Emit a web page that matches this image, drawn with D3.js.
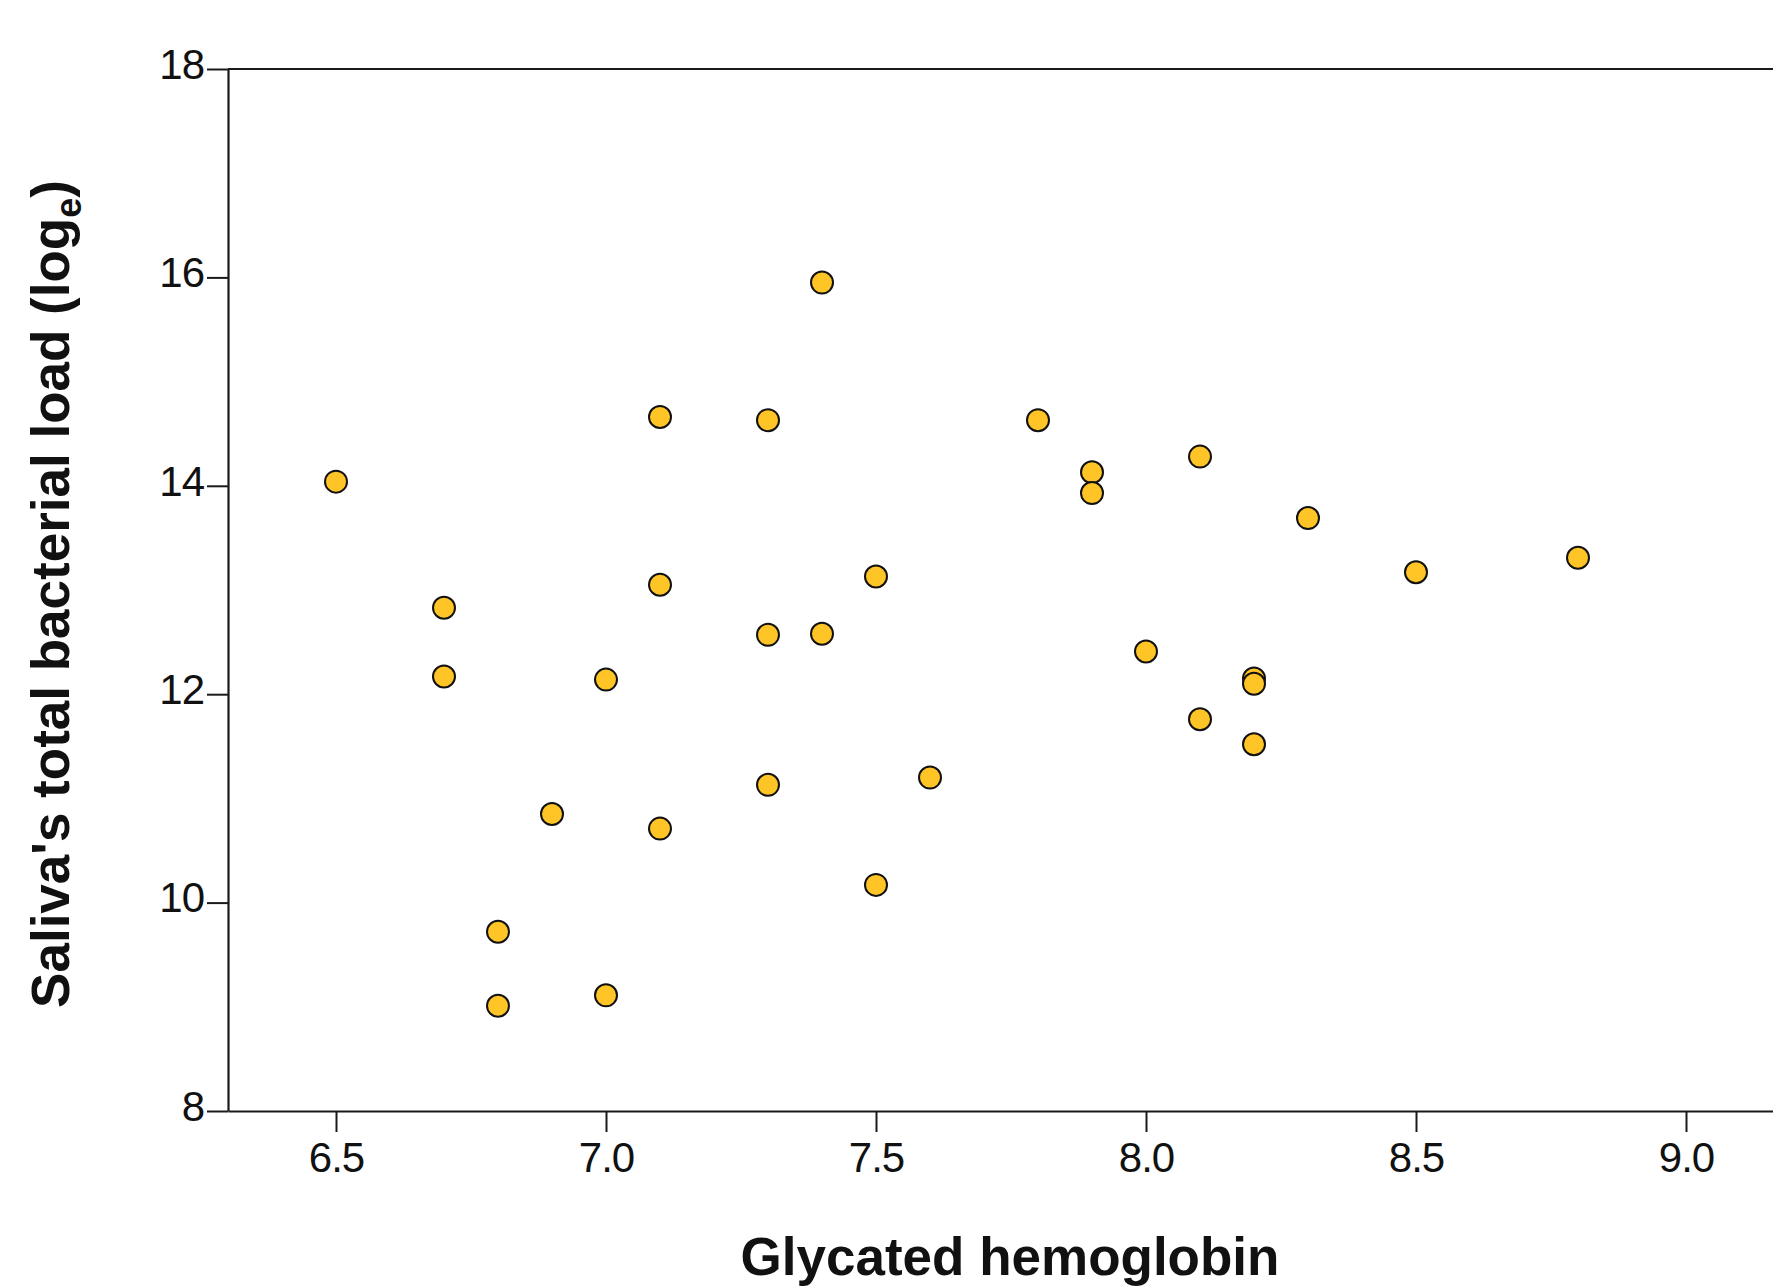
<!DOCTYPE html>
<html>
<head>
<meta charset="utf-8">
<script src="https://cdn.jsdelivr.net/npm/d3@7"></script>
<style>
  html, body { margin: 0; padding: 0; background: #fff; }
  svg { display: block; }
  .tick text { font-family: "Liberation Sans", Arial, sans-serif; }
</style>
</head>
<body>
<div id="chart"></div>
<script>
// HbA1c (x) against log-e bacterial load in saliva (y), one entry per patient
const hba1c = [6.5, 6.7, 6.7, 6.8, 6.8, 6.9, 7.0, 7.0, 7.1, 7.1, 7.1, 7.3, 7.3, 7.3, 7.4, 7.4,
               7.5, 7.5, 7.6, 7.8, 7.9, 7.9, 8.0, 8.1, 8.1, 8.2, 8.2, 8.2, 8.3, 8.5, 8.8];
const bacterialLoad = [14.04, 12.83, 12.17, 9.72, 9.01, 10.85, 12.14, 9.11, 14.66, 13.05, 10.71, 14.63, 12.57, 11.13, 15.95, 12.58,
                       13.13, 10.17, 11.20, 14.63, 14.13, 13.93, 12.41, 14.28, 11.76, 12.15, 12.10, 11.52, 13.69, 13.17, 13.31];
const xTicks = [6.5, 7.0, 7.5, 8.0, 8.5, 9.0];
const yTicks = [8, 10, 12, 14, 16, 18];

const width = 1773, height = 1287;
const margin = { top: 69, left: 228, bottom: 176 };

const svg = d3.select("#chart").append("svg")
    .attr("width", width)
    .attr("height", height);

// the frame runs past the right edge of the picture
const x = d3.scaleLinear().domain([6.3, 9.2]).range([margin.left, margin.left + 2.9 * 540]);
const y = d3.scaleLinear().domain([8, 18]).range([height - margin.bottom, margin.top]);

const xAxis = svg.append("g")
    .attr("transform", `translate(0,${y(8)})`)
    .call(d3.axisBottom(x).tickValues(xTicks).tickFormat(d3.format(".1f"))
        .tickSize(21).tickSizeOuter(0).tickPadding(10));

const yAxis = svg.append("g")
    .attr("transform", `translate(${x(6.3)},0)`)
    .call(d3.axisLeft(y).tickValues(yTicks).tickFormat(d3.format("d"))
        .tickSize(21).tickSizeOuter(0).tickPadding(3));

[xAxis, yAxis].forEach(g => {
    g.selectAll("path.domain").attr("stroke", "#1a1a1a").attr("stroke-width", 2.2);
    g.selectAll(".tick line").attr("stroke", "#1a1a1a").attr("stroke-width", 2);
    g.selectAll(".tick text").attr("fill", "#111").style("font-size", "42px")
        .style("letter-spacing", "-1px");
});
yAxis.selectAll(".tick text").attr("dy", "0.22em");

// top border of the frame
svg.append("line")
    .attr("x1", x(6.3)).attr("x2", x(9.2))
    .attr("y1", y(18)).attr("y2", y(18))
    .attr("stroke", "#1a1a1a").attr("stroke-width", 2.2);

// points
svg.append("g").selectAll("circle")
    .data(d3.zip(hba1c, bacterialLoad))
    .join("circle")
    .attr("cx", d => x(d[0]))
    .attr("cy", d => y(d[1]))
    .attr("r", 11)
    .attr("fill", "#ffc425")
    .attr("stroke", "#111")
    .attr("stroke-width", 2);

// axis titles
svg.append("text")
    .attr("x", 1010)
    .attr("y", 1275)
    .attr("text-anchor", "middle")
    .style("font-family", "'Liberation Sans', Arial, sans-serif")
    .style("font-weight", "bold")
    .style("font-size", "53px")
    .attr("fill", "#111")
    .text("Glycated hemoglobin");

const yTitle = svg.append("text")
    .attr("transform", "translate(69,594) rotate(-90)")
    .attr("text-anchor", "middle")
    .style("font-family", "'Liberation Sans', Arial, sans-serif")
    .style("font-weight", "bold")
    .style("font-size", "53px")
    .attr("fill", "#111");
yTitle.append("tspan").text("Saliva's total bacterial load (log");
yTitle.append("tspan").attr("dy", 12).style("font-size", "36px").text("e");
yTitle.append("tspan").attr("dy", -12).text(")");
</script>
</body>
</html>
